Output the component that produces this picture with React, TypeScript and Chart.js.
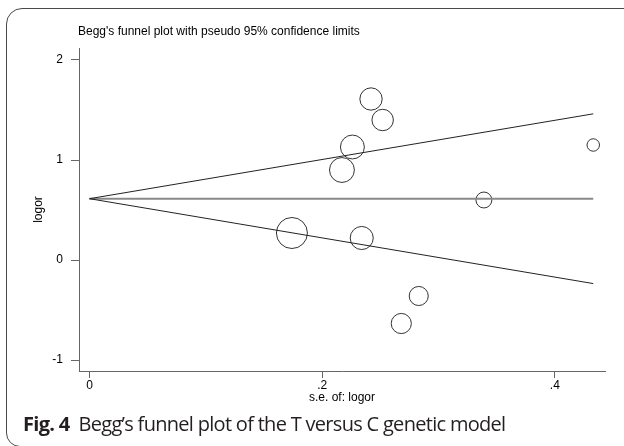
import React, { useEffect, useRef } from "react";
import { Chart, registerables } from "chart.js";

Chart.register(...registerables);

// ---- data ----
const studySe = [0.174, 0.217, 0.226, 0.234, 0.242, 0.252, 0.268, 0.283, 0.339, 0.433];
const studyLogOr = [0.27, 0.9, 1.13, 0.22, 1.61, 1.4, -0.635, -0.36, 0.6, 1.15];
const pooledLogOr = 0.613;
const funnelSe = [0, 0.433];
const xTicks = [0, 0.2, 0.4];
const xTickLabels = ["0", ".2", ".4"];
const yTicks = [-1, 0, 1, 2];
const yTickLabels = ["-1", "0", "1", "2"];

const chartTitle = "Begg's funnel plot with pseudo 95% confidence limits";
const xTitle = "s.e. of: logor";
const yTitle = "logor";

const FONT = '"Liberation Sans", Arial, sans-serif';

const titlePlugin = {
  id: "stataTitle",
  afterDraw(chart: any) {
    const ctx = chart.ctx;
    ctx.save();
    ctx.font = `12px ${FONT}`;
    ctx.fillStyle = "#000";
    ctx.textBaseline = "middle";
    ctx.textAlign = "left";
    ctx.fillText(chartTitle, chart.chartArea.left - 1, 32);
    ctx.restore();
  },
};

export default function App() {
  const ref = useRef<HTMLCanvasElement | null>(null);

  useEffect(() => {
    if (!ref.current) return;
    const points = studySe.map((s, i) => ({ x: s, y: studyLogOr[i] }));
    const radii = studySe.map((s) => 2.7 / s);
    const upper = funnelSe.map((s) => ({ x: s, y: pooledLogOr + 1.96 * s }));
    const lower = funnelSe.map((s) => ({ x: s, y: pooledLogOr - 1.96 * s }));
    const center = funnelSe.map((s) => ({ x: s, y: pooledLogOr }));

    const chart = new Chart(ref.current, {
      type: "scatter",
      data: {
        datasets: [
          {
            data: upper,
            showLine: true,
            borderColor: "#222",
            borderWidth: 1,
            pointRadius: 0,
          },
          {
            data: lower,
            showLine: true,
            borderColor: "#222",
            borderWidth: 1,
            pointRadius: 0,
          },
          {
            data: center,
            showLine: true,
            borderColor: "#8a8a8a",
            borderWidth: 2,
            pointRadius: 0,
          },
          {
            data: points,
            pointRadius: radii,
            pointStyle: "circle",
            backgroundColor: "rgba(0,0,0,0)",
            borderColor: "#333",
            borderWidth: 1,
          },
        ],
      },
      options: {
        animation: false,
        responsive: false,
        devicePixelRatio: 1,
        layout: { padding: { top: 48, right: 19, left: 0, bottom: 0 } },
        plugins: {
          legend: { display: false },
          tooltip: { enabled: false },
          title: { display: false },
        },
        scales: {
          x: {
            type: "linear",
            min: -0.009,
            max: 0.4431,
            afterBuildTicks: (s: any) => {
              s.ticks = xTicks.map((v) => ({ value: v }));
            },
            afterFit: (s: any) => {
              s.height = 75;
            },
            ticks: {
              callback: (_v: any, i: number) => xTickLabels[i],
              font: { family: FONT, size: 12 },
              color: "#000",
              padding: 0,
              maxRotation: 0,
              autoSkip: false,
            },
            grid: { drawOnChartArea: false, drawTicks: true, tickLength: 7, color: "#666", lineWidth: 1 },
            border: { display: true, color: "#666", width: 1 },
            title: {
              display: true,
              text: xTitle,
              font: { family: FONT, size: 12 },
              color: "#000",
              padding: { top: 0, bottom: 41 },
            },
          },
          y: {
            type: "linear",
            min: -1.11,
            max: 2.12,
            afterBuildTicks: (s: any) => {
              s.ticks = yTicks.map((v) => ({ value: v }));
            },
            afterFit: (s: any) => {
              s.width = 79;
            },
            ticks: {
              callback: (_v: any, i: number) => yTickLabels[i],
              font: { family: FONT, size: 12 },
              color: "#000",
              padding: 8,
              autoSkip: false,
            },
            grid: { drawOnChartArea: false, drawTicks: true, tickLength: 8, color: "#666", lineWidth: 1 },
            border: { display: true, color: "#666", width: 1 },
            title: {
              display: true,
              text: yTitle,
              font: { family: FONT, size: 12 },
              color: "#000",
              padding: { top: 31, bottom: 0 },
            },
          },
        },
      },
      plugins: [titlePlugin],
    } as any);
    return () => chart.destroy();
  }, []);

  return (
    <div
      style={{
        position: "fixed",
        left: 0,
        top: 0,
        width: 624,
        height: 446,
        background: "#fff",
        overflow: "hidden",
      }}
    >
      <div
        style={{
          position: "absolute",
          left: 6,
          top: 8,
          width: 720,
          height: 439,
          border: "1.5px solid #4a4a4a",
          borderTopLeftRadius: 16,
          borderBottomLeftRadius: 14,
          boxSizing: "border-box",
        }}
      />
      <canvas
        ref={ref}
        width={624}
        height={446}
        style={{ position: "absolute", left: 0, top: 0, width: 624, height: 446 }}
      />
      <div
        style={{
          position: "absolute",
          left: 23,
          top: 412,
          fontFamily: '"Open Sans", sans-serif',
          fontSize: 20,
          letterSpacing: -0.7,
          lineHeight: "24px",
          color: "#231f20",
          whiteSpace: "nowrap",
        }}
      >
        <b>Fig. 4</b>
        {"\u00a0\u00a0"}Begg’s funnel plot of the T versus C genetic model
      </div>
    </div>
  );
}
